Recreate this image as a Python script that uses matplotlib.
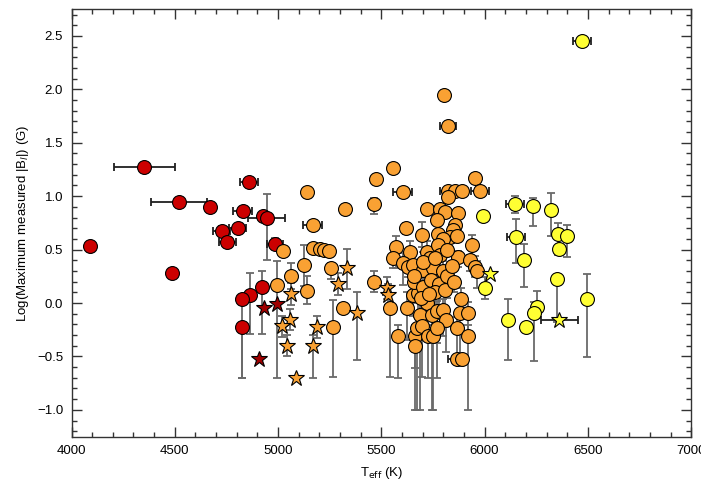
import matplotlib
matplotlib.use('Agg')
import matplotlib.pyplot as plt
import numpy as np

plt.rcParams['font.family'] = ['Liberation Sans', 'DejaVu Sans']

# ---- data: Teff (K), log|Bl| (G), Teff error, log errors (low, high)
red_teff = [4089, 4352, 4521, 4669, 4487, 4860, 4828, 4928, 4945, 4727,
            4804, 4754, 4985, 4923, 4864, 4827, 4824]
red_logb = [0.53, 1.27, 0.946, 0.90, 0.28, 1.13, 0.865, 0.81, 0.80, 0.675,
            0.705, 0.567, 0.555, 0.146, 0.077, 0.04, -0.223]
red_terr = [0, 148, 137, 0, 0, 45, 45, 0, 90, 40, 40, 40, 40, 0, 0, 0, 0]
red_lo = [0, 0, 0, 0, 0, 0, 0, 0, 0.40, 0.05, 0, 0, 0.05, 0.44, 0.37, 0.74, 0.48]
red_hi = [0, 0, 0, 0, 0, 0, 0, 0, 0.22, 0.05, 0, 0, 0.05, 0.15, 0.20, 0.0, 0.0]

redstar_teff = [4933, 4993, 4909]
redstar_logb = [-0.047, -0.01, -0.527]

orange_teff = [5138, 5324, 5466, 5555, 5474, 5603, 5954, 5978, 5168, 5825,
               5857, 5889, 5825, 5723, 5784, 5809, 5869, 5771, 5620, 5696,
               5857, 5849, 5833, 5865, 5776, 5800, 5171, 5203, 5224, 5245,
               5025, 5571, 5558, 5639, 5938, 5869, 5720, 5736, 5776, 5784,
               5817, 5607, 5631, 5655, 5930, 5954, 5962, 5704, 5752, 5800,
               5125, 5061, 4993, 5141, 5255, 5463, 5316, 5267, 5542, 5623,
               5655, 5679, 5720, 5687, 5744, 5768, 5800, 5815, 5888, 5881,
               5921, 5865, 5921, 5582, 5663, 5663, 5671, 5696, 5728, 5752,
               5768, 5865, 5889, 5804, 5823, 5660, 5700, 5740, 5780, 5820,
               5760, 5690, 5730, 5810, 5850, 5700, 5760, 5840, 5660]
orange_logb = [1.04, 0.877, 0.93, 1.265, 1.16, 1.04, 1.17, 1.05, 0.728, 1.05,
               1.045, 1.045, 0.99, 0.88, 0.88, 0.85, 0.846, 0.775, 0.70, 0.64,
               0.728, 0.68, 0.62, 0.63, 0.65, 0.60, 0.518, 0.505, 0.50, 0.49,
               0.49, 0.527, 0.425, 0.48, 0.54, 0.434, 0.48, 0.42, 0.54, 0.45,
               0.50, 0.372, 0.34, 0.357, 0.40, 0.34, 0.295, 0.31, 0.326, 0.295,
               0.357, 0.254, 0.17, 0.109, 0.326, 0.20, -0.047, -0.226, -0.047, -0.047,
               0.077, 0.093, 0.0, -0.109, -0.109, -0.077, -0.062, -0.155, 0.037, -0.093,
               -0.093, -0.233, -0.31, -0.31, -0.31, -0.40, -0.233, -0.217, -0.31, -0.31,
               -0.233, -0.527, -0.527, 1.95, 1.66, 0.20, 0.15, 0.22, 0.18, 0.25,
               0.10, 0.05, 0.08, 0.12, 0.20, 0.38, 0.42, 0.35, 0.25]
orange_terr = [0, 0, 0, 0, 0, 45, 0, 45, 45, 40,
               0, 0, 0, 0, 0, 0, 0, 0, 0, 0,
               0, 0, 0, 0, 0, 0, 0, 0, 0, 0,
               0, 0, 0, 0, 0, 0, 0, 0, 0, 0,
               0, 0, 0, 0, 0, 0, 0, 0, 0, 0,
               0, 0, 0, 0, 0, 0, 0, 0, 0, 0,
               0, 0, 0, 0, 0, 0, 0, 0, 0, 0,
               0, 0, 0, 0, 0, 0, 0, 0, 0, 0,
               0, 40, 0, 0, 40, 0, 0, 0, 0, 0,
               0, 0, 0, 0, 0, 0, 0, 0, 0]
orange_lo = [0, 0, 0.10, 0, 0, 0, 0, 0, 0, 0,
             0, 0, 0, 0, 0, 0, 0, 0, 0.05, 0.12,
             0, 0, 0, 0, 0, 0, 0, 0, 0, 0,
             0, 0.20, 0.10, 0.10, 0.10, 0.10, 0.10, 0.10, 0, 0.10,
             0, 0.20, 0.10, 0.15, 0.10, 0.10, 0.15, 0.20, 0.15, 0.15,
             0.20, 0.12, 0.87, 0.12, 0.10, 0.10, 0.04, 0.47, 0.65, 0.30,
             0.20, 0.30, 0.25, 0.89, 0.89, 0.30, 0.25, 0.30, 0.10, 0.50,
             0.20, 0.25, 0.69, 0.39, 0.30, 0.60, 0.77, 0.48, 0.39, 0.69,
             0.47, 0, 0, 0, 0, 0.20, 0.20, 0.15, 0.20, 0.20,
             0.15, 0.30, 0.20, 0.15, 0.10, 0.15, 0.10, 0.10, 0.15]
orange_hi = [0, 0, 0.05, 0, 0, 0, 0, 0, 0, 0,
             0, 0, 0, 0, 0, 0, 0, 0, 0.05, 0.12,
             0, 0, 0, 0, 0, 0, 0, 0, 0, 0,
             0, 0.10, 0.10, 0.10, 0.10, 0.05, 0.10, 0.05, 0, 0.05,
             0, 0.10, 0.05, 0.10, 0.05, 0.10, 0.10, 0.10, 0.10, 0.10,
             0.19, 0.12, 0.22, 0.14, 0.05, 0.10, 0.04, 0.25, 0.20, 0.15,
             0.10, 0.10, 0.10, 0.15, 0.15, 0.10, 0.10, 0.10, 0.10, 0.10,
             0.10, 0.10, 0.10, 0.10, 0.10, 0.10, 0.10, 0.10, 0.10, 0.10,
             0.10, 0, 0, 0, 0, 0.10, 0.10, 0.10, 0.10, 0.10,
             0.10, 0.10, 0.10, 0.10, 0.10, 0.10, 0.10, 0.10, 0.10]

ostar_teff = [5061, 5058, 5017, 5041, 5085, 5190, 5168, 5332, 5292, 5384, 5525, 5533]
ostar_logb = [0.084, -0.155, -0.217, -0.40, -0.70, -0.226, -0.40, 0.33, 0.177, -0.093, 0.14, 0.077]
ostar_lo = [0.10, 0.10, 0.10, 0.10, 0.0, 0.10, 0.30, 0.20, 0.10, 0.44, 0.10, 0.10]
ostar_hi = [0.10, 0.10, 0.10, 0.10, 0.0, 0.10, 0.10, 0.18, 0.10, 0.20, 0.10, 0.10]

yellow_teff = [6471, 6148, 6236, 6320, 6152, 6353, 6401, 6361, 6191, 6350,
               6495, 6253, 6240, 6111, 6201, 6003, 5994]
yellow_logb = [2.456, 0.924, 0.905, 0.874, 0.62, 0.645, 0.63, 0.505, 0.40, 0.226,
               0.037, -0.04, -0.093, -0.16, -0.226, 0.14, 0.81]
yellow_terr = [45, 45, 0, 0, 45, 0, 0, 0, 0, 0, 0, 0, 0, 0, 0, 0, 0]
yellow_lo = [0, 0.08, 0.18, 0.25, 0.25, 0.20, 0.20, 0.0, 0.25, 0.40,
             0.54, 0.10, 0.45, 0.37, 0, 0.10, 0]
yellow_hi = [0, 0.08, 0.08, 0.16, 0.17, 0.10, 0.10, 0.0, 0.15, 0.0,
             0.23, 0.15, 0.10, 0.20, 0, 0.10, 0]

ystar_teff = [6362, 6027]
ystar_logb = [-0.16, 0.27]
ystar_terr = [90, 0]

x_ticks = [4000, 4500, 5000, 5500, 6000, 6500, 7000]
y_ticks = [-1.0, -0.5, 0.0, 0.5, 1.0, 1.5, 2.0, 2.5]

RED = '#cc0000'
ORANGE = '#f9a133'
YELLOW = '#ffff33'

fig = plt.figure(figsize=(7.01, 4.84), dpi=100)
ax = fig.add_axes([0.102, 0.098, 0.884, 0.883])


def errs(x, y, xe, lo, hi):
    x = np.asarray(x, float)
    y = np.asarray(y, float)
    xe = np.asarray(xe, float)
    lo = np.asarray(lo, float)
    hi = np.asarray(hi, float)
    m = lo + hi > 0
    if m.any():
        ax.errorbar(x[m], y[m], yerr=[lo[m], hi[m]], fmt='none', ecolor='#6a6a6a',
                    elinewidth=1.3, capsize=3, capthick=1.3, zorder=1)
    m = xe > 0
    if m.any():
        ax.errorbar(x[m], y[m], xerr=xe[m], fmt='none', ecolor='#202020',
                    elinewidth=1.3, capsize=3, capthick=1.3, zorder=1)


errs(red_teff, red_logb, red_terr, red_lo, red_hi)
errs(orange_teff, orange_logb, orange_terr, orange_lo, orange_hi)
errs(ostar_teff, ostar_logb, [0] * len(ostar_teff), ostar_lo, ostar_hi)
errs(yellow_teff, yellow_logb, yellow_terr, yellow_lo, yellow_hi)
errs(ystar_teff, ystar_logb, ystar_terr, [0] * len(ystar_teff), [0] * len(ystar_teff))

circ = dict(marker='o', ms=10, mec='black', mew=0.8, ls='none', zorder=3)
star = dict(marker='*', ms=12, mec='black', mew=0.8, ls='none', zorder=3)

ax.plot(red_teff, red_logb, mfc=RED, **circ)
ax.plot(redstar_teff, redstar_logb, mfc='#a00000', **star)
ax.plot(orange_teff, orange_logb, mfc=ORANGE, **circ)
ax.plot(ostar_teff, ostar_logb, mfc=ORANGE, **star)
ax.plot(yellow_teff, yellow_logb, mfc=YELLOW, **circ)
ax.plot(ystar_teff, ystar_logb, mfc=YELLOW, **star)

ax.set_xlim(4000, 7000)
ax.set_ylim(-1.25, 2.75)
ax.set_xticks(x_ticks)
ax.set_xticks(np.arange(4000, 7001, 100), minor=True)
ax.set_yticks(y_ticks)
ax.set_yticks(np.arange(-1.2, 2.71, 0.1), minor=True)
ax.set_yticklabels([('%.1f' % v).replace('-', '\u2212') for v in y_ticks])
ax.tick_params(which='both', direction='in', top=True, right=True, labelsize=9.5,
               width=1.0, color='#333333')
ax.tick_params(which='major', length=7, pad=6)
ax.tick_params(which='minor', length=3.5)
for s in ax.spines.values():
    s.set_linewidth(1.0)
    s.set_color('#333333')

ax.set_xlabel(r'T$_{\rm eff}$ (K)', fontsize=9.5, labelpad=6)
ax.set_ylabel(r'Log(Maximum measured |B$_l$|) (G)', fontsize=9.5, labelpad=4)

fig.savefig('out.png', dpi=100)
